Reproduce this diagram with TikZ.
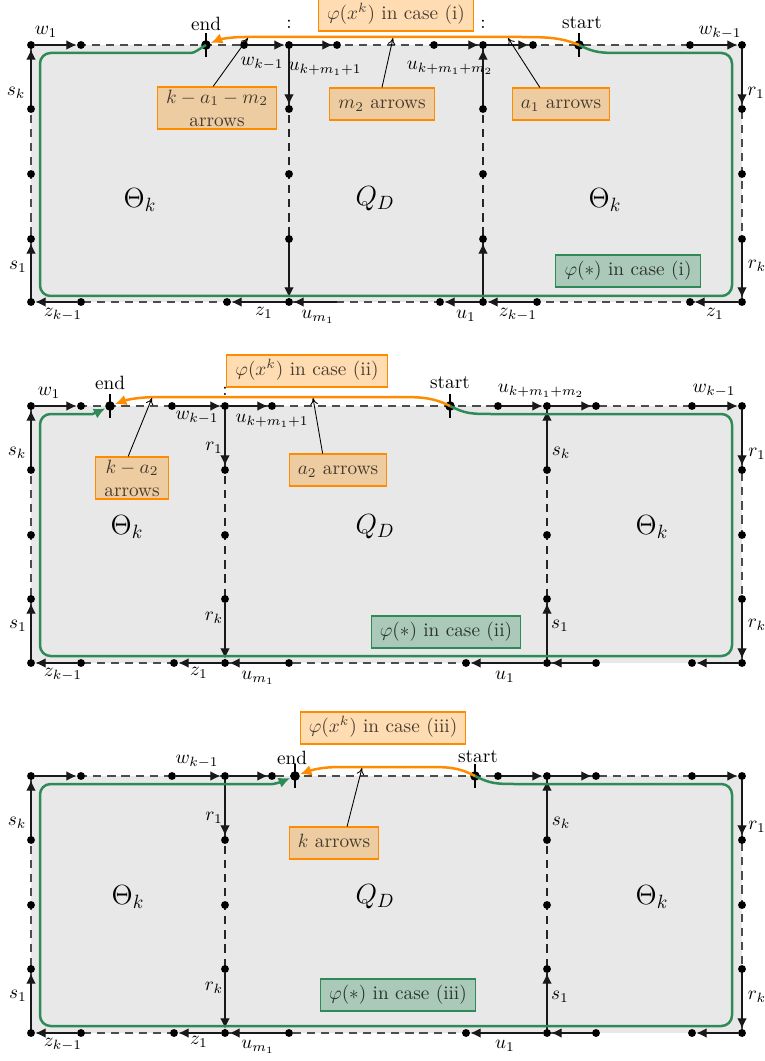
\documentclass[tikz,border=0pt]{standalone}
\usetikzlibrary{arrows.meta}
\definecolor{gfill}{RGB}{232,232,232}
\definecolor{myorange}{RGB}{255,140,0}
\definecolor{mygreen}{RGB}{46,139,87}
\begin{document}
\begin{tikzpicture}[x=0.52pt,y=-0.52pt,
  dot/.style={circle,fill=black,inner sep=0pt,minimum size=4.1pt},
  endmk/.style={circle,fill=black,inner sep=0pt,minimum size=5pt},
  tick/.style={line width=0.9pt},
  seg/.style={line width=0.65pt,black!90,-{Latex[length=5.4pt,width=5pt]}},
  bord/.style={line width=0.6pt,black!70,dash pattern=on 4.2pt off 3.1pt},
  midl/.style={line width=0.6pt,black!85,dash pattern=on 4.2pt off 3.1pt},
  gpath/.style={line width=1.3pt,mygreen},
  opath/.style={line width=1.3pt,myorange},
  carr/.style={-{Latex[length=6pt,width=5.6pt]}},
  obox/.style={draw=myorange,fill=myorange,fill opacity=0.3,text opacity=0.72,line width=0.6pt,inner xsep=4.5pt,inner ysep=3.3pt,text height=7.5pt,text depth=2.5pt},
  obox2/.style={draw=myorange,fill=myorange,fill opacity=0.3,text opacity=0.72,line width=0.6pt,inner xsep=4.5pt,inner ysep=1.4pt,align=center},
  gbox/.style={draw=mygreen,fill=mygreen,fill opacity=0.33,text opacity=0.75,line width=0.6pt,inner xsep=4.5pt,inner ysep=3.3pt,text height=7.5pt,text depth=2.5pt},
  ptr/.style={line width=0.45pt,-{To[length=3.5pt,width=4pt]}},
  big/.style={font=\Large}
]
\useasboundingbox (0,0) rectangle (764,1061);

%================ PANEL 1 =================
\fill[gfill] (31,45) rectangle (742,302);
\draw[bord] (31,45) rectangle (742,302);
\draw[midl] (289,45) -- (289,302);
\draw[midl] (483,45) -- (483,302);
\foreach \x in {31,81,244,289,337,434,483,533,690,742} \node[dot] (a-t\x) at (\x,45) {};
\foreach \x in {31,81,227,289,440,483,537,690,742} \node[dot] (a-b\x) at (\x,302) {};
\foreach \x in {31,289,483,742} \foreach \y in {109,174,239} \node[dot] (a-v\x-\y) at (\x,\y) {};
\coordinate (a-b337) at (337,302);
\draw[seg] (a-t31) -- (a-t81);
\draw[seg] (a-t244) -- (a-t289);
\draw[seg] (a-t289) -- (a-t337);
\draw[seg] (a-t434) -- (a-t483);
\draw[seg] (a-t483) -- (a-t533);
\draw[seg] (a-t690) -- (a-t742);
\draw[seg] (a-v31-109) -- (a-t31);
\draw[seg] (a-b31) -- (a-v31-239);
\draw[seg] (a-t742) -- (a-v742-109);
\draw[seg] (a-v742-239) -- (a-b742);
\draw[seg] (a-t289) -- (a-v289-109);
\draw[seg] (a-v289-239) -- (a-b289);
\draw[seg] (a-v483-109) -- (a-t483);
\draw[seg] (a-b483) -- (a-v483-239);
\draw[seg] (a-b81) -- (a-b31);
\draw[seg] (a-b289) -- (a-b227);
\draw[seg] (a-b337) -- (a-b289);
\draw[seg] (a-b483) -- (a-b440);
\draw[seg] (a-b537) -- (a-b483);
\draw[seg] (a-b742) -- (a-b690);
\node[endmk] (a-end) at (206,45) {};
\node[endmk] (a-start) at (579,45) {};
\draw[tick] ([yshift=6.2pt]a-end.center) -- ([yshift=-6.2pt]a-end.center);
\draw[tick] ([yshift=6.2pt]a-start.center) -- ([yshift=-6.2pt]a-start.center);
\draw[gpath] (a-start.center) .. controls (595,53) and (600,53) .. (625,53)
  [rounded corners=5.5pt] -- (732,53) -- (732,296) -- (40,296) -- (40,53) -- (180,53)
  [sharp corners] .. controls (195,53) and (199,49) .. (a-end.center);
\draw[opath,carr] (a-start.center) .. controls (560,37) and (545,37) .. (515,37) -- (245,37)
  .. controls (228,37) and (218,40) .. (a-end);
\node (a-lw1) at (46,32) {$w_1$};
\node (a-lend) at (206,24) {end};
\node (a-lwk) at (262,64) {$w_{k-1}$};
\node (a-lu1) at (325,69) {$u_{k+m_1+1}$};
\node (a-c1) at (289,24) {:};
\node (a-lu2) at (450,68) {$u_{k+m_1+m_2}$};
\node (a-c2) at (483,24) {:};
\node (a-lstart) at (582,23) {start};
\node (a-lwk2) at (720,33) {$w_{k-1}$};
\node (a-lsk) at (16,93) {$s_k$};
\node (a-lr1) at (756,93) {$r_1$};
\node (a-ls1) at (18,267) {$s_1$};
\node (a-lrk) at (757,266) {$r_k$};
\node (a-lz1) at (63,315) {$z_{k-1}$};
\node (a-lz2) at (264,313) {$z_1$};
\node (a-lum) at (318,317) {$u_{m_1}$};
\node (a-lub) at (466,316) {$u_1$};
\node (a-lz3) at (518,315) {$z_{k-1}$};
\node (a-lz4) at (715,314) {$z_1$};
\node[big] (a-th1) at (140,200) {$\Theta_k$};
\node[big] (a-q) at (375,199) {$Q_D$};
\node[big] (a-th2) at (605,200) {$\Theta_k$};
\node[obox] (a-title) at (396,15) {$\varphi(x^k)$ in case (i)};
\node[obox2] (a-bx1) at (217,108) {$k-a_1-m_2$\\arrows};
\node[obox] (a-bx2) at (382,104) {$m_2$ arrows};
\node[obox] (a-bx3) at (561,104) {$a_1$ arrows};
\node[gbox] (a-g) at (628,271) {$\varphi(*)$ in case (i)};
\coordinate (a-p1) at (248,38);
\coordinate (a-p2) at (393,38);
\coordinate (a-p3) at (508,38);
\draw[ptr] ([xshift=-2pt]a-bx1.north) -- (a-p1);
\draw[ptr] (a-bx2.north) -- (a-p2);
\draw[ptr] ([xshift=-11pt]a-bx3.north) -- (a-p3);

%================ PANEL 2 =================
\fill[gfill] (31,406) rectangle (742,663);
\draw[bord] (596,663) -- (31,663) -- (31,406) -- (742,406) -- (742,663);
\draw[midl] (225,406) -- (225,663);
\draw[midl] (547,406) -- (547,663);
\foreach \x in {31,81,172,225,272,498,547,596,692,742} \node[dot] (b-t\x) at (\x,406) {};
\foreach \x in {31,81,174,225,289,466,547,596,692,742} \node[dot] (b-b\x) at (\x,663) {};
\foreach \x in {31,225,547,742} \foreach \y in {470,535,599} \node[dot] (b-v\x-\y) at (\x,\y) {};
\draw[seg] (b-t31) -- (b-t81);
\draw[seg] (b-t172) -- (b-t225);
\draw[seg] (b-t225) -- (b-t272);
\draw[seg] (b-t498) -- (b-t547);
\draw[seg] (b-t547) -- (b-t596);
\draw[seg] (b-t692) -- (b-t742);
\draw[seg] (b-v31-470) -- (b-t31);
\draw[seg] (b-b31) -- (b-v31-599);
\draw[seg] (b-t742) -- (b-v742-470);
\draw[seg] (b-v742-599) -- (b-b742);
\draw[seg] (b-t225) -- (b-v225-470);
\draw[seg] (b-v225-599) -- (b-b225);
\draw[seg] (b-v547-470) -- (b-t547);
\draw[seg] (b-b547) -- (b-v547-599);
\draw[seg] (b-b81) -- (b-b31);
\draw[seg] (b-b225) -- (b-b174);
\draw[seg] (b-b289) -- (b-b225);
\draw[seg] (b-b547) -- (b-b466);
\draw[seg] (b-b596) -- (b-b547);
\draw[seg] (b-b742) -- (b-b692);
\node[endmk] (b-end) at (110,406) {};
\node[endmk] (b-start) at (450,406) {};
\draw[tick] ([yshift=6.2pt]b-end.center) -- ([yshift=-6.2pt]b-end.center);
\draw[tick] ([yshift=6.2pt]b-start.center) -- ([yshift=-6.2pt]b-start.center);
\draw[gpath,carr] (b-start.center) .. controls (466,414) and (471,414) .. (495,414)
  [rounded corners=5.5pt] -- (732,414) -- (732,656) -- (40,656) -- (40,414) -- (82,414)
  [sharp corners] .. controls (92,414) and (98,412) .. (b-end);
\draw[opath,carr] (b-start.center) .. controls (432,397) and (420,397) .. (395,397) -- (160,397)
  .. controls (138,397) and (126,400) .. (b-end);
\node (b-lw1) at (49,393) {$w_1$};
\node (b-lend) at (110,383) {end};
\node (b-lwk) at (197,418) {$w_{k-1}$};
\node (b-lu1) at (272,421) {$u_{k+m_1+1}$};
\node (b-c1) at (225,391) {:};
\node (b-lstart) at (450,383) {start};
\node (b-lu2) at (541,391) {$u_{k+m_1+m_2}$};
\node (b-lwk2) at (714,391) {$w_{k-1}$};
\node (b-lsk) at (17,453) {$s_k$};
\node (b-lr1m) at (214,448) {$r_1$};
\node (b-lskm) at (561,453) {$s_k$};
\node (b-lr1) at (757,454) {$r_1$};
\node (b-ls1) at (18,626) {$s_1$};
\node (b-lrkm) at (214,618) {$r_k$};
\node (b-ls1m) at (560,626) {$s_1$};
\node (b-lrk) at (757,625) {$r_k$};
\node (b-lz1) at (63,675) {$z_{k-1}$};
\node (b-lz2) at (199,673) {$z_1$};
\node (b-lum) at (258,678) {$u_{m_1}$};
\node (b-lub) at (505,677) {$u_1$};
\node[big] (b-th1) at (127,527) {$\Theta_k$};
\node[big] (b-q) at (375,527) {$Q_D$};
\node[big] (b-th2) at (652,527) {$\Theta_k$};
\node[obox] (b-title) at (307,371) {$\varphi(x^k)$ in case (ii)};
\node[obox2] (b-bx1) at (132,478) {$k-a_2$\\arrows};
\node[obox] (b-bx2) at (338,470) {$a_2$ arrows};
\node[gbox] (b-g) at (446,632) {$\varphi(*)$ in case (ii)};
\coordinate (b-p1) at (152,398);
\coordinate (b-p2) at (313,398);
\draw[ptr] ([xshift=-2pt]b-bx1.north) -- (b-p1);
\draw[ptr] ([xshift=-8pt]b-bx2.north) -- (b-p2);

%================ PANEL 3 =================
\fill[gfill] (31,776) rectangle (742,1033);
\draw[bord] (596,1033) -- (31,1033) -- (31,776) -- (742,776) -- (742,1033);
\draw[midl] (225,776) -- (225,1033);
\draw[midl] (547,776) -- (547,1033);
\foreach \x in {31,81,172,225,272,498,547,596,692,742} \node[dot] (c-t\x) at (\x,776) {};
\foreach \x in {31,81,174,225,289,466,547,596,692,742} \node[dot] (c-b\x) at (\x,1033) {};
\foreach \x in {31,225,547,742} \foreach \y in {840,905,969} \node[dot] (c-v\x-\y) at (\x,\y) {};
\draw[seg] (c-t31) -- (c-t81);
\draw[seg] (c-t172) -- (c-t225);
\draw[seg] (c-t225) -- (c-t272);
\draw[seg] (c-t498) -- (c-t547);
\draw[seg] (c-t547) -- (c-t596);
\draw[seg] (c-t692) -- (c-t742);
\draw[seg] (c-v31-840) -- (c-t31);
\draw[seg] (c-b31) -- (c-v31-969);
\draw[seg] (c-t742) -- (c-v742-840);
\draw[seg] (c-v742-969) -- (c-b742);
\draw[seg] (c-t225) -- (c-v225-840);
\draw[seg] (c-v225-969) -- (c-b225);
\draw[seg] (c-v547-840) -- (c-t547);
\draw[seg] (c-b547) -- (c-v547-969);
\draw[seg] (c-b81) -- (c-b31);
\draw[seg] (c-b225) -- (c-b174);
\draw[seg] (c-b289) -- (c-b225);
\draw[seg] (c-b547) -- (c-b466);
\draw[seg] (c-b596) -- (c-b547);
\draw[seg] (c-b742) -- (c-b692);
\node[endmk] (c-end) at (295,776) {};
\node[endmk] (c-start) at (475,776) {};
\draw[tick] ([yshift=6.2pt]c-end.center) -- ([yshift=-6.2pt]c-end.center);
\draw[tick] ([yshift=6.2pt]c-start.center) -- ([yshift=-6.2pt]c-start.center);
\draw[gpath,carr] (c-start.center) .. controls (491,784) and (496,784) .. (520,784)
  [rounded corners=5.5pt] -- (732,784) -- (732,1026) -- (40,1026) -- (40,784) -- (262,784)
  [sharp corners] .. controls (274,784) and (281,782) .. (c-end);
\draw[opath,carr] (c-start.center) .. controls (458,767) and (448,767) .. (425,767) -- (340,767)
  .. controls (322,767) and (312,770) .. (c-end);
\node (c-lwk) at (197,762) {$w_{k-1}$};
\node (c-lend) at (292,758) {end};
\node (c-lstart) at (478,757) {start};
\node (c-lsk) at (17,823) {$s_k$};
\node (c-lr1m) at (214,818) {$r_1$};
\node (c-lskm) at (561,823) {$s_k$};
\node (c-lr1) at (757,827) {$r_1$};
\node (c-ls1) at (18,996) {$s_1$};
\node (c-lrkm) at (214,988) {$r_k$};
\node (c-ls1m) at (560,997) {$s_1$};
\node (c-lrk) at (757,997) {$r_k$};
\node (c-lz1) at (63,1045) {$z_{k-1}$};
\node (c-lz2) at (199,1042) {$z_1$};
\node (c-lum) at (258,1047) {$u_{m_1}$};
\node (c-lub) at (505,1046) {$u_1$};
\node[big] (c-th1) at (128,897) {$\Theta_k$};
\node[big] (c-q) at (375,897) {$Q_D$};
\node[big] (c-th2) at (652,897) {$\Theta_k$};
\node[obox] (c-title) at (383,728) {$\varphi(x^k)$ in case (iii)};
\node[obox] (c-bx1) at (334,843) {$k$ arrows};
\node[gbox] (c-g) at (398,995) {$\varphi(*)$ in case (iii)};
\coordinate (c-p1) at (362,768);
\draw[ptr] ([xshift=6.8pt]c-bx1.north) -- (c-p1);
\end{tikzpicture}
\end{document}
